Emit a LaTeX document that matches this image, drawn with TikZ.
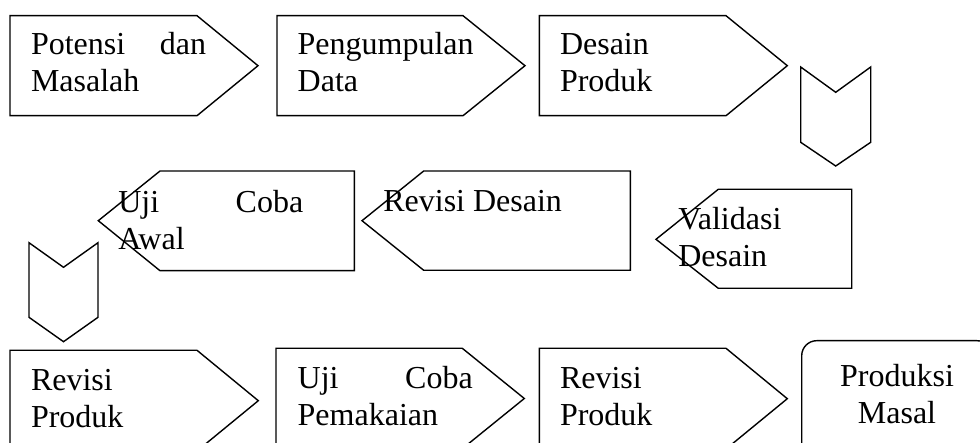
\documentclass[tikz,border=0pt]{standalone}
\usepackage{fontspec}
\setmainfont{Liberation Serif}
\tikzset{
  shp/.style={draw=black, line width=1.4pt, line join=miter},
  txt/.style={anchor=base west, inner sep=0pt, outer sep=0pt, font=\fontsize{32}{36.8}\selectfont},
}
\begin{document}
\begin{tikzpicture}[x=1pt,y=-1pt]
\useasboundingbox (0,0) rectangle (980,443);
% ---- row 1 (pointing right)
\draw[shp] (10,15.7) -- (197,15.7) -- (258,65.7) -- (197,115.7) -- (10,115.7) -- cycle;
\node[txt] (potensi) at (31,55) {\parbox[t]{175pt}{Potensi\hfill dan\\Masalah}};
\draw[shp] (277,15.7) -- (463,15.7) -- (525,65.7) -- (463,115.7) -- (277,115.7) -- cycle;
\node[txt] (pengumpulan) at (297.7,55) {\parbox[t]{200pt}{Pengumpulan\\Data}};
\draw[shp] (539.3,15.7) -- (726,15.7) -- (787.3,65.7) -- (726,115.7) -- (539.3,115.7) -- cycle;
\node[txt] (desain) at (560,55) {\parbox[t]{200pt}{Desain\\Produk}};
% ---- chevron down (right)
\draw[shp] (800.7,67) -- (835.7,92.3) -- (870.7,67) -- (870.7,142.3) -- (835.7,166) -- (800.7,142.3) -- cycle;
% ---- row 2 (pointing left)
\draw[shp] (98.3,220.7) -- (160,171) -- (354.3,171) -- (354.3,270.7) -- (160,270.7) -- cycle;
\node[txt] (ujiawal) at (118.3,212.3) {\parbox[t]{185pt}{Uji\hfill Coba\\Awal}};
\draw[shp] (362,220.7) -- (423.7,171) -- (630.3,171) -- (630.3,270.3) -- (423.7,270.3) -- cycle;
\node[txt] (revdesain) at (383.3,211.7) {\parbox[t]{240pt}{Revisi Desain}};
\draw[shp] (656,239.3) -- (718.3,189.3) -- (851.7,189.3) -- (851.7,288.3) -- (718.3,288.3) -- cycle;
\node[txt] (validasi) at (678.3,230) {\parbox[t]{200pt}{Validasi\\Desain}};
% ---- chevron down (left)
\draw[shp] (29,242.7) -- (63.5,267.3) -- (98,242.7) -- (98,317.3) -- (63.5,341.7) -- (29,317.3) -- cycle;
% ---- row 3 (pointing right)
\draw[shp] (10,350.3) -- (197,350.3) -- (258.3,400.7) -- (197,451) -- (10,451) -- cycle;
\node[txt] (revproduk1) at (31,391) {\parbox[t]{200pt}{Revisi\\Produk}};
\draw[shp] (276,348.3) -- (462.3,348.3) -- (524.3,398.5) -- (462.3,448.7) -- (276,448.7) -- cycle;
\node[txt] (ujipakai) at (297.7,388.3) {\parbox[t]{175pt}{Uji\hfill Coba\\Pemakaian}};
\draw[shp] (539.3,348.3) -- (726,348.3) -- (787.3,398.7) -- (726,449) -- (539.3,449) -- cycle;
\node[txt] (revproduk2) at (560,388.3) {\parbox[t]{200pt}{Revisi\\Produk}};
% ---- final rounded box
\draw[shp, rounded corners=15pt] (801.7,340.7) rectangle (992,462);
\node[txt, anchor=base] (produksi) at (897,386.5) {\parbox[t]{170pt}{\centering Produksi\\Masal}};
\end{tikzpicture}
\end{document}
